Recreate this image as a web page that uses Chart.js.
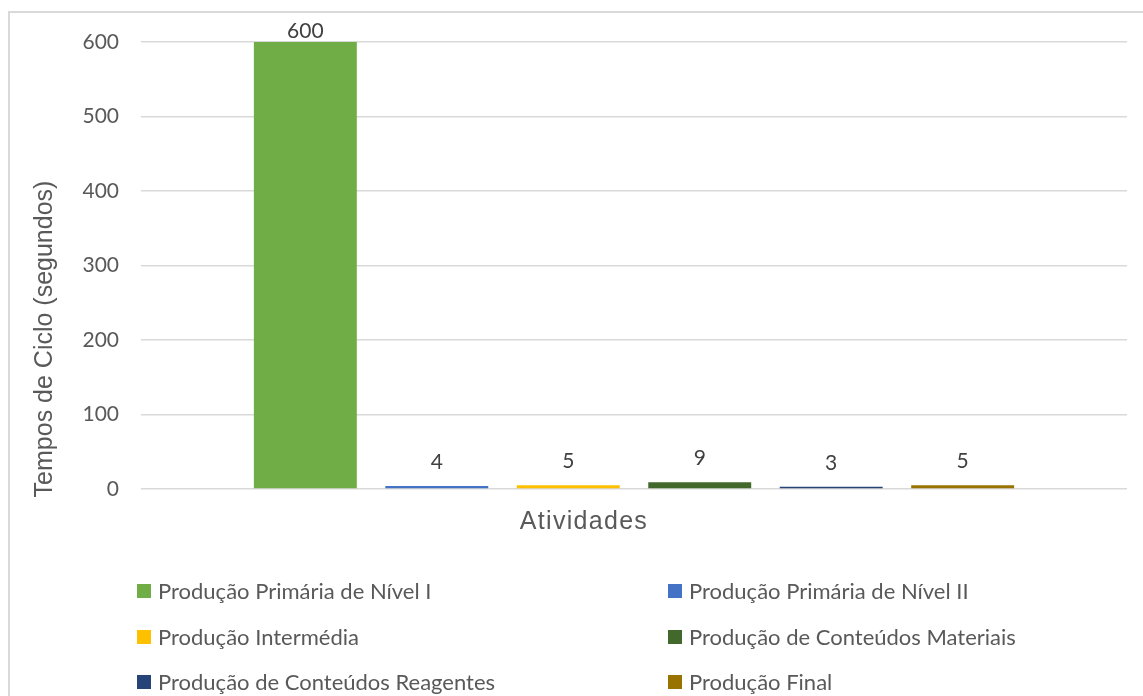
<!DOCTYPE html>
<html>
<head>
<meta charset="utf-8">
<script src="https://cdn.jsdelivr.net/npm/chart.js@4"></script>
<style>
  html, body { margin: 0; padding: 0; background: #fff; overflow: hidden; }
  #frame { position: absolute; left: 8px; top: 11px; width: 1160px; height: 720px; border: 2px solid #d9d9d9; box-sizing: border-box; }
  #wrap { position: absolute; left: 0; top: 0; width: 1143px; height: 696px; }
</style>
</head>
<body>
<div id="frame"></div>
<div id="wrap"><canvas id="c" width="1143" height="696"></canvas></div>
<script>
const categories = [''];
const seriesNames = [
  'Produção Primária de Nível I',
  'Produção Primária de Nível II',
  'Produção Intermédia',
  'Produção de Conteúdos Materiais',
  'Produção de Conteúdos Reagentes',
  'Produção Final'
];
const seriesValues = [600, 4, 5, 9, 3, 5];
const seriesColors = ['#70ad47', '#4472c4', '#ffc000', '#43682b', '#264478', '#997300'];
const yTicks = [0, 100, 200, 300, 400, 500, 600];
const yTitle = 'Tempos de Ciclo (segundos)';
const xTitle = 'Atividades';

const TEXT = '#595959';

const datasets = seriesNames.map((name, i) => ({
  label: name,
  data: [seriesValues[i]],
  backgroundColor: seriesColors[i],
  borderWidth: 0,
  categoryPercentage: 0.8,
  barPercentage: 0.783
}));

const decor = {
  id: 'decor',
  afterDatasetsDraw(chart) {
    const ctx = chart.ctx;
    const area = chart.chartArea;
    ctx.save();
    // data labels
    ctx.font = '21px Lato';
    ctx.fillStyle = '#404040';
    ctx.textAlign = 'center';
    ctx.textBaseline = 'middle';
    chart.data.datasets.forEach((ds, i) => {
      const meta = chart.getDatasetMeta(i);
      meta.data.forEach((bar, j) => {
        const y = Math.max(bar.y - 24, area.top - 11);
        ctx.fillText(String(ds.data[j]), bar.x, y);
      });
    });
    // axis titles
    ctx.fillStyle = TEXT;
    ctx.font = '25px "Liberation Sans"';
    ctx.save();
    ctx.translate(45, 339);
    ctx.rotate(-Math.PI / 2);
    ctx.fillText(yTitle, 0, 0);
    ctx.restore();
    ctx.save();
    if ('letterSpacing' in ctx) ctx.letterSpacing = '1.3px';
    ctx.fillText(xTitle, 584, 522);
    ctx.restore();
    // legend
    ctx.font = '22px Lato';
    ctx.textAlign = 'left';
    const cols = [137, 668];
    const rows = [591, 637, 682];
    chart.data.datasets.forEach((ds, i) => {
      const cx = cols[i % 2];
      const cy = rows[Math.floor(i / 2)];
      ctx.fillStyle = ds.backgroundColor;
      ctx.fillRect(cx, cy - 7, 14, 14);
      ctx.fillStyle = TEXT;
      ctx.fillText(ds.label, cx + 21, cy + 1);
    });
    ctx.restore();
  }
};

new Chart(document.getElementById('c'), {
  type: 'bar',
  data: { labels: categories, datasets },
  options: {
    responsive: false,
    animation: false,
    layout: { padding: { left: 0, top: 42, right: 16, bottom: 207 } },
    plugins: { legend: { display: false }, tooltip: { enabled: false } },
    scales: {
      x: {
        grid: { display: false, drawTicks: false },
        border: { display: false },
        ticks: { display: false },
        afterFit(scale) { scale.height = 0; }
      },
      y: {
        min: 0, max: 600,
        afterBuildTicks(scale) { scale.ticks = yTicks.map(v => ({ value: v })); },
        grid: { color: '#d9d9d9', lineWidth: 1.5, drawTicks: false },
        border: { display: false },
        ticks: { color: TEXT, font: { family: 'Lato', size: 21 }, padding: 22 },
        afterFit(scale) { scale.width = 141; }
      }
    }
  },
  plugins: [decor]
});
</script>
</body>
</html>
